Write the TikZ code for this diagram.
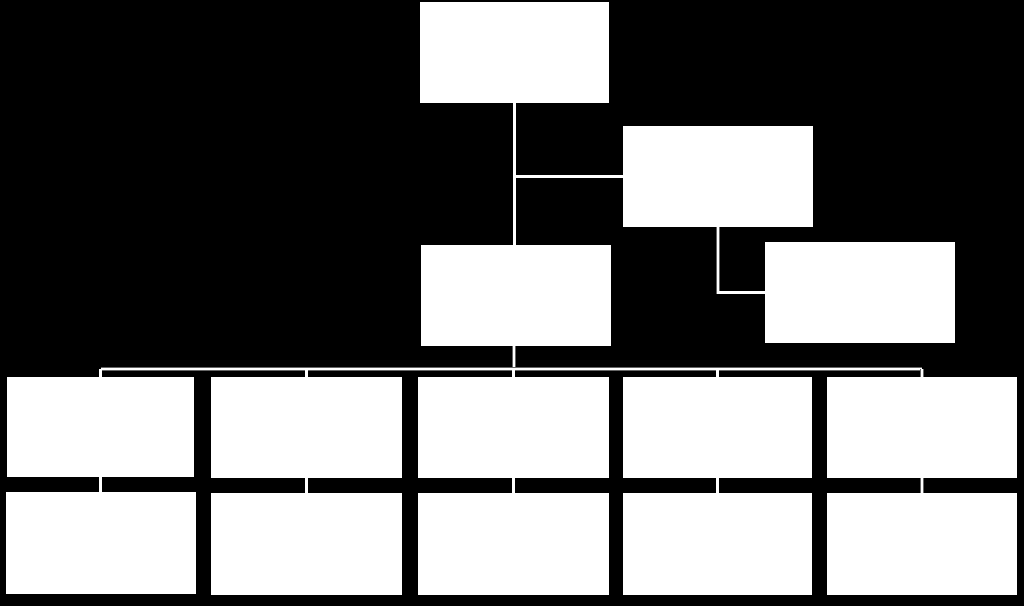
\documentclass[tikz,border=0pt]{standalone}
\begin{document}
\begin{tikzpicture}[x=1pt,y=-1pt,
  orgbox/.style={draw=none,fill=white,rectangle,inner sep=0pt},
  link/.style={draw=black!60,double=white,double distance=2.4pt,line width=0.6pt}]
\fill[black] (0,0) rectangle (1024,606);
\useasboundingbox (0,0) rectangle (1024,606);
\newcommand{\orgnode}[5]{\node[orgbox,minimum width={#4-#2},minimum height={#5-#3}] (#1) at ({(#2+#4)/2},{(#3+#5)/2}) {};}
\orgnode{top}{420}{2}{609}{103}
\orgnode{asst}{623}{126}{813}{227}
\orgnode{side}{765}{242}{955}{343}
\orgnode{mid}{421}{245}{611}{346}
\orgnode{ra}{7}{377}{194}{477}
\orgnode{rb}{211}{377}{402}{478}
\orgnode{rc}{418}{377}{609}{478}
\orgnode{rd}{623}{377}{812}{478}
\orgnode{re}{827}{377}{1017}{478}
\orgnode{sa}{6}{492}{196}{594}
\orgnode{sb}{211}{493}{402}{595}
\orgnode{sc}{418}{493}{609}{595}
\orgnode{sd}{623}{493}{812}{595}
\orgnode{se}{827}{493}{1017}{595}
\coordinate (bus) at (514,369);
\draw[link] (top.south) -- (top.south |- mid.north);
\draw[link] (top.south |- asst.west) -- (asst.west);
\draw[link] (asst.south) |- (side.west);
\draw[link] (bus |- mid.south) -- (bus);
\draw[link] (ra.north |- bus) -- (re.north |- bus);
\foreach \n in {ra,rb,rc,rd,re}{\draw[link] (\n.north |- bus) -- (\n.north);}
\draw[link] (ra.south) -- (ra.south |- sa.north);
\draw[link] (rb.south) -- (rb.south |- sb.north);
\draw[link] (rc.south) -- (rc.south |- sc.north);
\draw[link] (rd.south) -- (rd.south |- sd.north);
\draw[link] (re.south) -- (re.south |- se.north);
\foreach \n in {top,asst,side,mid,ra,rb,rc,rd,re,sa,sb,sc,sd,se}{
  \fill[white] (\n.north west) rectangle (\n.south east);}
\end{tikzpicture}
\end{document}
